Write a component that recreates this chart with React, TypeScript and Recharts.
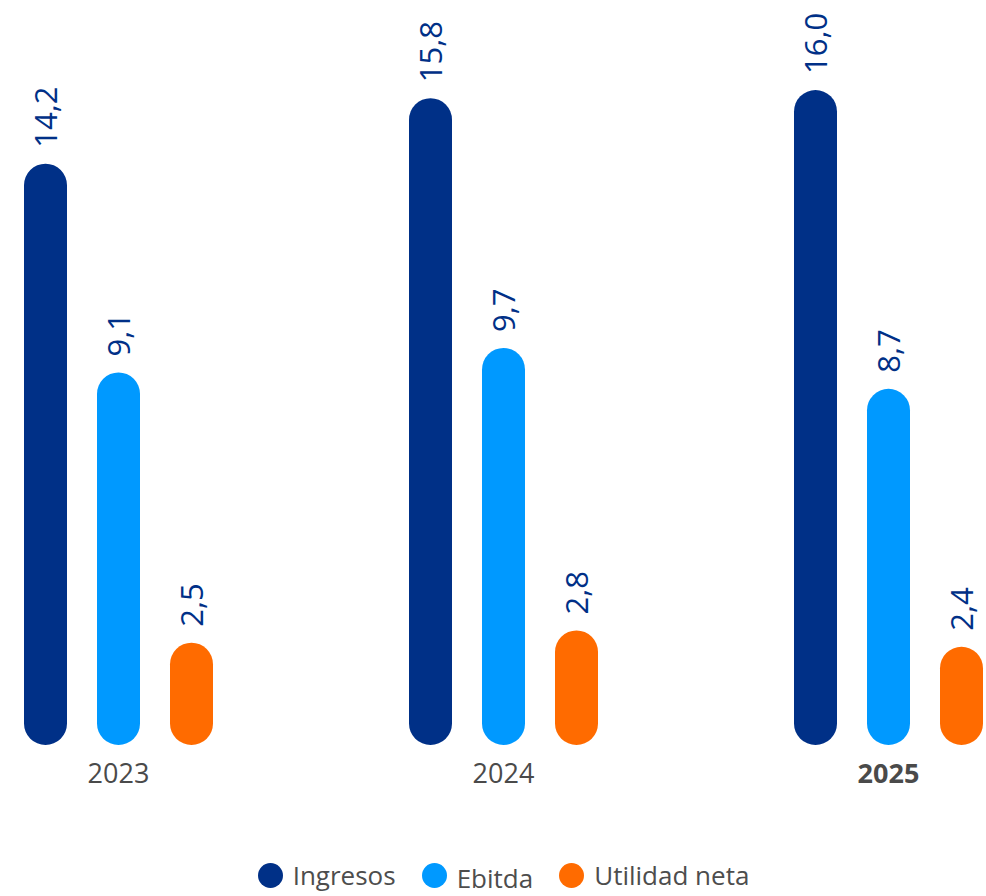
import { BarChart, Bar, XAxis, YAxis, Legend, LabelList } from "recharts";

const years = ["2023", "2024", "2025"];
const ingresos = [14.2, 15.8, 16.0];
const ebitda = [9.1, 9.7, 8.7];
const utilidadNeta = [2.5, 2.8, 2.4];

const seriesInfo = [
  { key: "ingresos", name: "Ingresos", color: "#003087" },
  { key: "ebitda", name: "Ebitda", color: "#0099ff" },
  { key: "utilidad", name: "Utilidad neta", color: "#ff6b00" },
];

const FONT = "'Open Sans', sans-serif";
const LABEL_COLOR = "#003087";

const rows = years.map((year, i) => ({
  year,
  ingresos: ingresos[i],
  ebitda: ebitda[i],
  utilidad: utilidadNeta[i],
}));

const fmt = (v: number) => v.toFixed(1).replace(".", ",");

function ValueLabel(props: any) {
  const { x, y, width, value } = props;
  const cx = Number(x) + Number(width) / 2;
  const ty = Number(y) - 16;
  return (
    <text
      x={cx}
      y={ty}
      dy={11}
      transform={`rotate(-90 ${cx} ${ty})`}
      textAnchor="start"
      fill={LABEL_COLOR}
      fontSize={31}
      fontFamily={FONT}
    >
      {fmt(Number(value))}
    </text>
  );
}

function YearTick(props: any) {
  const { x, y, payload } = props;
  const bold = payload.value === "2025";
  return (
    <text
      x={x}
      y={y}
      dy={38}
      textAnchor="middle"
      fill="#4a4a4a"
      fontSize={27}
      fontWeight={bold ? 700 : 400}
      fontFamily={FONT}
    >
      {payload.value}
    </text>
  );
}

function LegendBox() {
  return (
    <div
      style={{
        display: "flex",
        justifyContent: "center",
        alignItems: "center",
        height: 40,
        fontFamily: FONT,
        fontSize: 26,
        color: "#4d4d4d",
      }}
    >
      {seriesInfo.map((s, i) => (
        <div
          key={s.key}
          style={{ display: "flex", alignItems: "center", marginLeft: i === 0 ? 0 : 26 }}
        >
          <span
            style={{
              width: 25,
              height: 25,
              borderRadius: "50%",
              background: s.color,
              marginRight: 10,
              display: "inline-block",
            }}
          />
          <span style={{ position: "relative", top: s.key === "ebitda" ? 3 : 0 }}>{s.name}</span>
        </div>
      ))}
    </div>
  );
}

export default function App() {
  return (
    <div
      style={{
        position: "absolute",
        left: 0,
        top: 0,
        width: 986,
        height: 896,
        overflow: "hidden",
        background: "#fff",
      }}
    >
      <div style={{ position: "absolute", left: -74, top: 0 }}>
        <BarChart
          width={1155}
          height={896}
          data={rows}
          margin={{ top: 90, right: 0, left: 0, bottom: 81 }}
          barSize={43}
          barGap={30}
        >
          <XAxis
            dataKey="year"
            axisLine={false}
            tickLine={false}
            tickSize={0}
            tickMargin={0}
            height={30}
            interval={0}
            tick={<YearTick />}
          />
          <YAxis hide domain={[0, 16]} />
          <Legend
            verticalAlign="bottom"
            content={<LegendBox />}
            wrapperStyle={{ top: 855, left: 0, width: 1155, height: 40 }}
          />
          {seriesInfo.map((s) => (
            <Bar
              key={s.key}
              dataKey={s.key}
              name={s.name}
              fill={s.color}
              radius={[21.5, 21.5, 21.5, 21.5]}
              isAnimationActive={false}
            >
              <LabelList dataKey={s.key} content={<ValueLabel />} />
            </Bar>
          ))}
        </BarChart>
      </div>
    </div>
  );
}
